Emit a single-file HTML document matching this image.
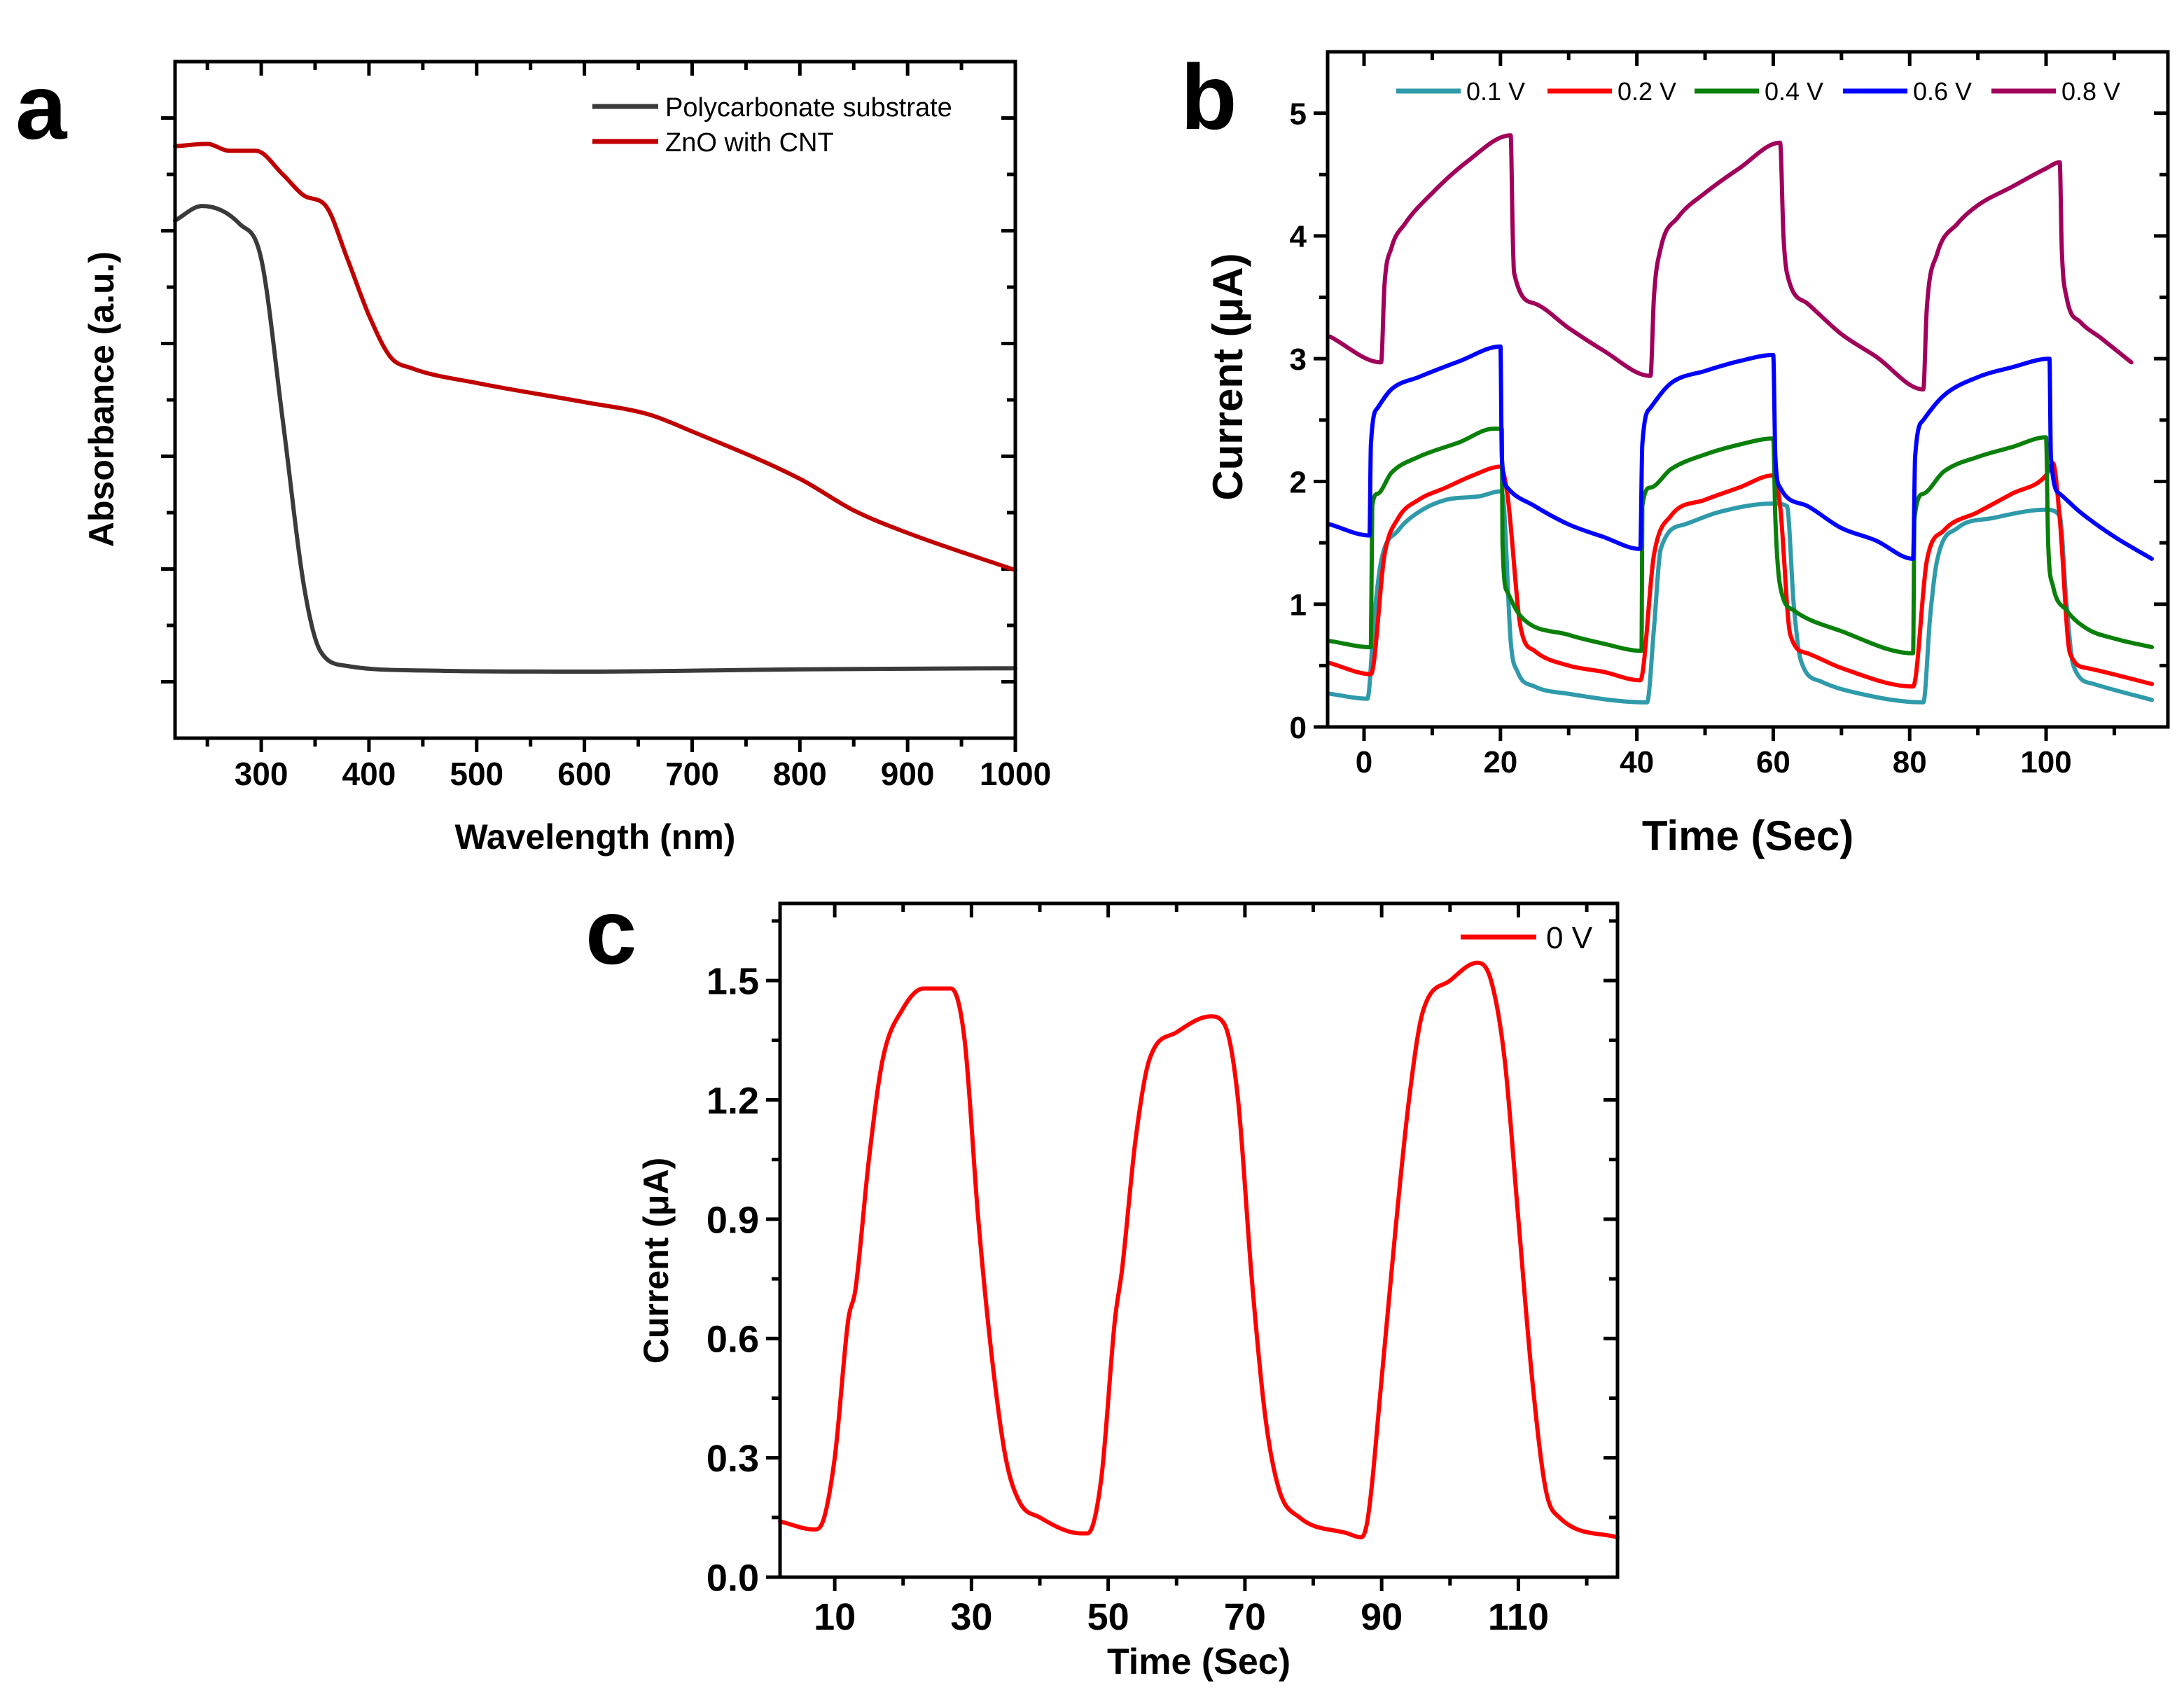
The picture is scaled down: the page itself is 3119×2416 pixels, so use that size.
<!DOCTYPE html>
<html><head><meta charset="utf-8"><style>
html,body{margin:0;padding:0;background:#fff;}
svg{display:block;font-family:"Liberation Sans",Arial,sans-serif;}
</style></head><body>
<svg id="fig" width="3119" height="2416" viewBox="0 0 3119 2416" xmlns="http://www.w3.org/2000/svg">
<text x="22" y="198" font-size="132" font-weight="bold">a</text>
<text x="1686" y="184" font-size="132" font-weight="bold">b</text>
<text x="836" y="1376" font-size="132" font-weight="bold">c</text>
</svg>
<script>
// ---- Panel a data ----
const aPolyX = [220,245,280,300,320,340,355,380,450,600,800,1000];
const aPolyY = [4.09,4.22,4.06,3.75,2.32,0.83,0.27,0.14,0.10,0.09,0.11,0.12];
const aZnoX = [220,250,270,295,320,340,360,380,400,420,440,500,600,660,700,800,850,900,1000];
const aZnoY = [4.75,4.77,4.71,4.71,4.50,4.31,4.22,3.75,3.25,2.88,2.78,2.65,2.48,2.37,2.22,1.80,1.52,1.32,0.99];
const aXTicks = [300,400,500,600,700,800,900,1000];
// ---- Panel b data ----
const b08T = [-5,2.5,3,4,6,10,15,21.5,21.8,22,25,30,35,42,42.5,43.5,46,50,55,61,61.5,62,65,70,75,82,82.5,84,87,90,95,100,102,102.3,103,105,108,112.5];
const b08I = [3.18,2.97,3.6,3.9,4.1,4.35,4.6,4.82,4.0,3.7,3.45,3.25,3.07,2.86,3.5,3.9,4.15,4.35,4.55,4.76,4.0,3.7,3.45,3.2,3.02,2.75,3.4,3.85,4.1,4.25,4.4,4.55,4.6,3.9,3.5,3.3,3.17,2.97];
const b06T = [-5,0.8,1,2,4,8,14,20,20.2,21,25,30,35,40.5,40.8,42,45,50,55,60,60.3,61,65,70,75,80.5,80.8,82,85,90,95,100.5,100.7,102,105,110,115.5];
const b06I = [1.65,1.56,2.3,2.6,2.75,2.85,2.98,3.1,2.2,1.95,1.8,1.65,1.55,1.45,2.3,2.6,2.8,2.9,2.98,3.03,2.2,1.95,1.8,1.62,1.52,1.37,2.2,2.5,2.7,2.85,2.93,3.0,2.2,1.9,1.75,1.55,1.37];
const b04T = [-5,1,1.2,2,4,8,14,19,20.2,20.3,21,23,30,35,40.7,40.8,42,45,50,55,60,60.3,61,63,70,80.5,80.7,82,85,90,95,100,100.3,101,103,106,110,115.5];
const b04I = [0.7,0.65,1.8,1.9,2.07,2.2,2.32,2.43,2.43,1.5,1.1,0.9,0.75,0.68,0.62,1.8,1.95,2.1,2.22,2.3,2.35,1.7,1.15,0.95,0.78,0.6,1.7,1.9,2.08,2.2,2.28,2.36,1.5,1.15,0.95,0.8,0.72,0.65];
const b02T = [-5,1,3,5,8,12,16,20,21,23,25,30,35,40.5,42.5,45,50,55,60,61,62.5,65,70,80.5,82.5,85,90,95,100,101,102,103.5,106,115.5];
const b02I = [0.52,0.43,1.4,1.7,1.85,1.95,2.05,2.12,1.9,0.8,0.62,0.5,0.45,0.38,1.4,1.72,1.85,1.95,2.05,1.8,0.75,0.6,0.48,0.33,1.35,1.6,1.75,1.9,2.05,2.15,1.7,0.6,0.48,0.35];
const b01T = [-5,0.5,1.5,2.5,5,8,12,17,20,20.5,21.5,22.5,25,30,41.5,42.5,43.5,47,52,60,62,63,64,67,72,82,83,84,87,92,100,102,103,104,107,115.5];
const b01I = [0.27,0.23,0.9,1.35,1.6,1.75,1.85,1.88,1.92,1.8,0.7,0.45,0.33,0.27,0.2,0.8,1.45,1.65,1.75,1.82,1.8,1.0,0.55,0.37,0.28,0.2,0.9,1.35,1.62,1.7,1.77,1.72,1.0,0.5,0.35,0.22];
const bXTicks = [0,20,40,60,80,100];
const bYTicks = [0,1,2,3,4,5];
const bLegend = ["0.1 V","0.2 V","0.4 V","0.6 V","0.8 V"];
// ---- Panel c data ----
const cT = [2,7,8,10,12,13,15,17,20,23,27,29,31,33,35,37,40,46,47,49,51,52,54,56,60,65,67,69,71,73,75,78,85,87,88,90,92,94,96,100,104,106,108,110,112,114,116,124.5];
const cI = [0.14,0.12,0.13,0.3,0.65,0.72,1.05,1.3,1.43,1.48,1.48,1.35,0.9,0.55,0.3,0.19,0.15,0.11,0.11,0.25,0.65,0.77,1.1,1.3,1.37,1.41,1.39,1.2,0.75,0.4,0.22,0.15,0.11,0.1,0.15,0.5,0.87,1.2,1.42,1.5,1.545,1.5,1.3,0.9,0.5,0.22,0.15,0.1];
const cXTicks = [10,30,50,70,90,110];
const cYTicks = ["0.0","0.3","0.6","0.9","1.2","1.5"];

const NS="http://www.w3.org/2000/svg";
const svg=document.getElementById('fig');
function mk(tag,attrs,parent){const e=document.createElementNS(NS,tag);for(const k in attrs)e.setAttribute(k,attrs[k]);(parent||svg).appendChild(e);return e;}
function scale(d0,d1,r0,r1){return v=>r0+(v-d0)/(d1-d0)*(r1-r0);}

function frame(L,T,R,B,name){
  const r=mk('rect',{x:L,y:T,width:R-L,height:B-T,fill:'none',stroke:'#000','stroke-width':5});
  
  
}
function xTick(sx,v,T,B,len,lab,fs,name){
  const x=sx(v);
  const t1=mk('line',{x1:x,x2:x,y1:B,y2:B+len,stroke:'#000','stroke-width':5});
  
  
  mk('line',{x1:x,x2:x,y1:T,y2:T+len,stroke:'#000','stroke-width':5});
  if(lab!==null){
    const t=mk('text',{x:x,y:B+len+fs*1.02,'font-size':fs,'font-weight':'bold','text-anchor':'middle'});
    t.textContent=lab;
    
    
  }
}
function yTick(sy,v,L,R,len,lab,fs,name){
  const y=sy(v);
  const t1=mk('line',{x1:L-len,x2:L,y1:y,y2:y,stroke:'#000','stroke-width':5});
  
  
  mk('line',{x1:R-len,x2:R,y1:y,y2:y,stroke:'#000','stroke-width':5});
  if(lab!==null){
    const t=mk('text',{x:L-len-10,y:y+fs*0.36,'font-size':fs,'font-weight':'bold','text-anchor':'end'});
    t.textContent=lab;
    
    
  }
}
// monotone cubic (Fritsch-Carlson) path
function line(xs,ys,sx,sy,color,w,name){
  const X=xs.map(sx), Y=ys.map(sy), n=X.length;
  const d=[],m=[];
  for(let i=0;i<n-1;i++)d.push((Y[i+1]-Y[i])/(X[i+1]-X[i]));
  m[0]=d[0];m[n-1]=d[n-2];
  for(let i=1;i<n-1;i++){m[i]=(d[i-1]*d[i]<=0)?0:(d[i-1]+d[i])/2;}
  for(let i=0;i<n-1;i++){
    if(d[i]===0){m[i]=0;m[i+1]=0;continue;}
    const a=m[i]/d[i],b=m[i+1]/d[i],s=a*a+b*b;
    if(s>9){const t=3/Math.sqrt(s);m[i]=t*a*d[i];m[i+1]=t*b*d[i];}
  }
  let p='M'+X[0].toFixed(1)+','+Y[0].toFixed(1);
  for(let i=0;i<n-1;i++){
    const h=(X[i+1]-X[i])/3;
    p+=' C'+(X[i]+h).toFixed(1)+','+(Y[i]+m[i]*h).toFixed(1)+' '+(X[i+1]-h).toFixed(1)+','+(Y[i+1]-m[i+1]*h).toFixed(1)+' '+X[i+1].toFixed(1)+','+Y[i+1].toFixed(1);
  }
  const el=mk('path',{d:p,fill:'none',stroke:color,'stroke-width':w,'stroke-linejoin':'round','stroke-linecap':'round'});
  
  
}
function label(txt,x,y,fs,rot,name,weight){
  const t=mk('text',{x:x,y:y,'font-size':fs,'font-weight':weight||'bold','text-anchor':'middle'});
  if(rot)t.setAttribute('transform','rotate(-90 '+x+' '+y+')');
  t.textContent=txt;
  
  
}

// ===== Panel a =====
(function(){
  const L=250,T=88,R=1450,B=1054;
  const sx=scale(220,1000,L,R), sy=scale(-0.5,5.5,B,T);
  for(let v=250;v<=1000;v+=50){const maj=v%100===0;xTick(sx,v,T,B,maj?20:12,maj?String(v):null,46,'a');}
  for(let v=-0.5;v<=5.5;v+=0.5){if(v<=-0.5||v>=5.5)continue;const maj=Number.isInteger(v);yTick(sy,v,L,R,maj?20:12,null,46,'a');}
  line(aPolyX,aPolyY,sx,sy,'#3a3a3a',6,'polycarbonate-line');
  line(aZnoX,aZnoY,sx,sy,'#c00000',6,'zno-cnt-line');
  frame(L,T,R,B,'a');
  const l1=mk('line',{x1:846,x2:940,y1:152,y2:152,stroke:'#3a3a3a','stroke-width':7});
  
  
  const l2=mk('line',{x1:846,x2:940,y1:202,y2:202,stroke:'#c00000','stroke-width':7});
  
  
  const t1=mk('text',{x:950,y:166,'font-size':38});t1.textContent='Polycarbonate substrate';
  
  
  const t2=mk('text',{x:950,y:216,'font-size':38});t2.textContent='ZnO with CNT';
  
  
  label('Wavelength (nm)',850,1212,50,false,'a-x-axis-title');
  label('Absorbance (a.u.)',162,570,50,true,'a-y-axis-title');
})();

// ===== Panel b =====
(function(){
  const L=1896,T=74,R=3096,B=1038;
  const sx=scale(-5.34,117.86,L,R), sy=scale(0,5.5,B,T);
  for(let v=0;v<=110;v+=10){const maj=v%20===0;xTick(sx,v,T,B,maj?20:12,maj?String(v):null,44,'b');}
  for(let v=0;v<=5;v+=0.5){const maj=Number.isInteger(v);yTick(sy,v,L,R,maj?20:12,maj?String(v):null,44,'b');}
  line(b01T,b01I,sx,sy,'#2e9aaa',6,'series-0.1v');
  line(b02T,b02I,sx,sy,'#ff0000',6,'series-0.2v');
  line(b04T,b04I,sx,sy,'#0a800a',6,'series-0.4v');
  line(b06T,b06I,sx,sy,'#0000ff',6,'series-0.6v');
  line(b08T,b08I,sx,sy,'#a0005a',6,'series-0.8v');
  frame(L,T,R,B,'b');
  const cols=['#2e9aaa','#ff0000','#0a800a','#0000ff','#a0005a'];
  const lx=[1994,2210,2420,2632,2844];
  bLegend.forEach((s,i)=>{
    const l=mk('line',{x1:lx[i],x2:lx[i]+92,y1:130,y2:130,stroke:cols[i],'stroke-width':7});
    
    
    const t=mk('text',{x:lx[i]+100,y:143,'font-size':36});t.textContent=s;
    
    
  });
  label('Time (Sec)',2496,1214,60,false,'b-x-axis-title');
  label('Current (μA)',1774,538,60,true,'b-y-axis-title');
})();

// ===== Panel c =====
(function(){
  const L=1114,T=1290,R=2310,B=2252;
  const sx=scale(2,124.5,L,R), sy=scale(0,1.694,B,T);
  for(let v=10;v<=120;v+=10){const maj=(v-10)%20===0;xTick(sx,v,T,B,maj?20:12,maj?String(v):null,54,'c');}
  for(let k=0;k<=11;k++){const v=k*0.15;const maj=k%2===0;yTick(sy,v,L,R,maj?20:12,maj?cYTicks[k/2]:null,54,'c');}
  line(cT,cI,sx,sy,'#ff0000',6,'series-0v');
  frame(L,T,R,B,'c');
  const l=mk('line',{x1:2086,x2:2194,y1:1338,y2:1338,stroke:'#ff0000','stroke-width':7});
  
  
  const t=mk('text',{x:2208,y:1354,'font-size':44});t.textContent='0 V';
  
  
  label('Time (Sec)',1712,2390,52,false,'c-x-axis-title');
  label('Current (μA)',954,1800,50,true,'c-y-axis-title');
})();
</script>
</body></html>
